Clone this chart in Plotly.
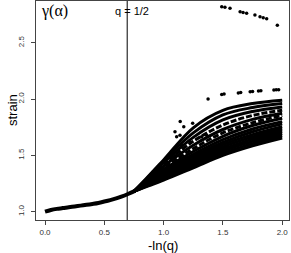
import plotly.graph_objects as go

# ---- data ----
x_base = [0, 0.05, 0.1, 0.15, 0.2, 0.25, 0.3, 0.35, 0.4, 0.45, 0.5, 0.55, 0.6, 0.65, 0.7, 0.75]
y_base = [1.0, 1.015, 1.025, 1.032, 1.04, 1.047, 1.054, 1.061, 1.069, 1.078, 1.09, 1.103, 1.118, 1.136, 1.157, 1.18]

x_fan = [0.75, 0.85, 1.0, 1.25, 1.5, 1.75, 2.0]
fan_curves = [
    [1.18, 1.22, 1.28, 1.39, 1.50, 1.585, 1.655],
    [1.18, 1.225, 1.29, 1.405, 1.52, 1.605, 1.675],
    [1.18, 1.23, 1.30, 1.42, 1.54, 1.625, 1.695],
    [1.18, 1.235, 1.31, 1.435, 1.555, 1.645, 1.715],
    [1.18, 1.24, 1.32, 1.45, 1.575, 1.665, 1.735],
    [1.18, 1.245, 1.33, 1.47, 1.595, 1.685, 1.755],
    [1.18, 1.25, 1.345, 1.49, 1.615, 1.71, 1.78],
    [1.18, 1.255, 1.36, 1.51, 1.64, 1.735, 1.80],
    [1.18, 1.26, 1.375, 1.535, 1.67, 1.765, 1.83],
    [1.18, 1.265, 1.39, 1.56, 1.70, 1.79, 1.855],
    [1.18, 1.27, 1.405, 1.59, 1.73, 1.82, 1.875],
    [1.18, 1.275, 1.42, 1.625, 1.77, 1.855, 1.90],
    [1.18, 1.28, 1.435, 1.66, 1.815, 1.89, 1.93],
    [1.18, 1.285, 1.45, 1.70, 1.86, 1.925, 1.96],
    [1.18, 1.29, 1.46, 1.745, 1.90, 1.96, 1.99],
]
dashed_curves = [9, 11]

x_dotted = [1.375, 1.49, 1.51, 1.63, 1.65, 1.73, 1.75, 1.80, 1.82, 1.93, 1.95, 1.97]
y_dotted = [2.0, 2.04, 2.045, 2.055, 2.058, 2.065, 2.067, 2.072, 2.074, 2.08, 2.082, 2.083]

x_top = [1.49, 1.517, 1.56, 1.645, 1.67, 1.70, 1.77, 1.813, 1.84, 1.869, 1.959]
y_top = [2.821, 2.815, 2.806, 2.776, 2.77, 2.762, 2.747, 2.732, 2.723, 2.714, 2.655]

x_scatter = [0.913, 0.955, 0.998, 1.096, 1.11, 1.138, 1.096, 1.153, 1.166, 1.17, 1.245, 1.14, 1.223, 1.32, 1.363]
y_scatter = [1.355, 1.37, 1.385, 1.71, 1.666, 1.68, 1.50, 1.59, 1.563, 1.755, 1.785, 1.80, 1.62, 1.666, 1.68]

x_ticks = [0, 0.5, 1.0, 1.5, 2.0]
x_ticklabels = ["0.0", "0.5", "1.0", "1.5", "2.0"]
y_ticks = [1.0, 1.5, 2.0, 2.5]
y_ticklabels = ["1.0", "1.5", "2.0", "2.5"]
q_half = 0.6931

fig = go.Figure()
fig.add_trace(go.Scatter(x=x_base, y=y_base, mode="lines",
                         line=dict(color="black", width=4, shape="spline"), showlegend=False))
for i, c in enumerate(fan_curves):
    fig.add_trace(go.Scatter(x=x_fan, y=c, mode="lines",
                             line=dict(color="black", width=3, shape="spline",
                                       dash="6px,2px" if i in dashed_curves else "solid"),
                             showlegend=False))
fig.add_trace(go.Scatter(x=x_dotted, y=y_dotted, mode="markers",
                         marker=dict(color="black", size=3.5), showlegend=False))
fig.add_trace(go.Scatter(x=x_top, y=y_top, mode="markers",
                         marker=dict(color="black", size=3.5), showlegend=False))
fig.add_trace(go.Scatter(x=x_scatter, y=y_scatter, mode="markers",
                         marker=dict(color="black", size=3.5), showlegend=False))

fig.add_shape(type="line", x0=q_half, x1=q_half, y0=0, y1=1, xref="x", yref="paper",
              line=dict(color="black", width=1))

fig.add_annotation(x=0.08, y=2.78, text="γ(α)", showarrow=False,
                   font=dict(family="Liberation Serif", size=16, color="black"))
fig.add_annotation(x=0.73, y=2.785, text="q = 1/2", showarrow=False,
                   font=dict(family="Liberation Sans", size=11, color="black"))

# axis titles as annotations for exact placement
fig.add_annotation(xref="paper", yref="paper", x=(12.5 - 36) / 253, y=0.5, text="strain",
                   textangle=-90, showarrow=False, xanchor="center", yanchor="middle",
                   font=dict(family="Liberation Sans", size=13, color="black"))
fig.add_annotation(xref="paper", yref="paper", x=0.5, y=-(245 - 220) / 219, text="-ln(q)",
                   showarrow=False, xanchor="center", yanchor="middle", borderpad=0,
                   font=dict(family="Liberation Sans", size=13, color="black"))

axis_common = dict(showgrid=False, zeroline=False, showline=True, linecolor="#444",
                   linewidth=1, mirror=True, ticks="outside", ticklen=4, tickcolor="#444",
                   tickfont=dict(family="Liberation Sans", size=8, color="#333"))
fig.update_xaxes(range=[-0.0759, 2.0573], tickvals=x_ticks, ticktext=x_ticklabels, **axis_common)
fig.update_yaxes(range=[0.9263, 2.8712], tickvals=y_ticks, ticktext=y_ticklabels, tickangle=-90,
                 ticklabelstandoff=4, **axis_common)
fig.update_layout(width=291, height=253, margin=dict(l=36, r=2, t=1, b=33),
                  plot_bgcolor="white", paper_bgcolor="white")
fig.write_html("out.html", config={"displayModeBar": False},
               post_script="document.body.style.margin='0';document.body.style.overflow='hidden';")
